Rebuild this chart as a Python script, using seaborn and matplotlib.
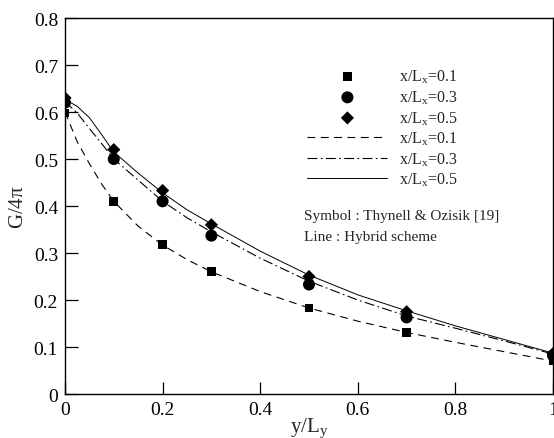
import numpy as np
import pandas as pd
import seaborn as sns
from matplotlib import pyplot as plt

# symbols : Thynell & Ozisik [19]
y_sym = [0.0, 0.1, 0.2, 0.3, 0.5, 0.7, 1.0]
g_sym_01 = [0.598, 0.410, 0.318, 0.260, 0.183, 0.131, 0.072]
g_sym_03 = [0.620, 0.500, 0.410, 0.337, 0.233, 0.163, 0.082]
g_sym_05 = [0.630, 0.520, 0.433, 0.360, 0.250, 0.175, 0.086]

# lines : hybrid scheme
y_line = [0.0, 0.025, 0.05, 0.075, 0.1, 0.15, 0.2, 0.25, 0.3, 0.4, 0.5, 0.6, 0.7, 0.8, 0.9, 1.0]
g_line_01 = [0.600, 0.537, 0.490, 0.447, 0.410, 0.357, 0.317, 0.286, 0.260, 0.218, 0.183, 0.155, 0.131, 0.110, 0.090, 0.070]
g_line_03 = [0.622, 0.598, 0.565, 0.533, 0.500, 0.455, 0.410, 0.375, 0.345, 0.289, 0.240, 0.200, 0.166, 0.140, 0.113, 0.085]
g_line_05 = [0.627, 0.612, 0.588, 0.552, 0.515, 0.470, 0.428, 0.392, 0.362, 0.304, 0.253, 0.211, 0.177, 0.145, 0.116, 0.087]

sns.set_style("ticks")
plt.rcParams['font.family'] = ['Liberation Serif', 'DejaVu Serif']
plt.rcParams['mathtext.default'] = 'regular'

fig = plt.figure(figsize=(5.54, 4.39), dpi=100)
ax = fig.add_axes([0.1173, 0.1002, 0.8809, 0.8565])

lab = [r'x/L$_x$=0.1', r'x/L$_x$=0.3', r'x/L$_x$=0.5']

sns.scatterplot(x=y_sym, y=g_sym_01, marker='s', s=40, color='black', edgecolor='none', label=lab[0], ax=ax, zorder=3)
sns.scatterplot(x=y_sym, y=g_sym_03, marker='o', s=75, color='black', edgecolor='none', label=lab[1], ax=ax, zorder=3)
sns.scatterplot(x=y_sym, y=g_sym_05, marker='D', s=45, color='black', edgecolor='none', label=lab[2], ax=ax, zorder=3)

sns.lineplot(x=y_line, y=g_line_01, color='black', lw=0.8, ax=ax, label=lab[0])
ax.lines[-1].set_dashes([7, 5])
sns.lineplot(x=y_line, y=g_line_03, color='black', lw=0.8, ax=ax, label=lab[1])
ax.lines[-1].set_dashes([9, 3, 1.5, 3])
sns.lineplot(x=y_line, y=g_line_05, color='black', lw=0.7, ax=ax, label=lab[2])

ax.set_xlim(0, 1)
ax.set_ylim(0, 0.8)
ax.set_xticks([0, 0.2, 0.4, 0.6, 0.8, 1.0])
ax.set_xticklabels(['0', '0.2', '0.4', '0.6', '0.8', '1'])
ax.set_yticks(np.arange(0, 0.81, 0.1))
ax.set_yticklabels(['0', '0.1', '0.2', '0.3', '0.4', '0.5', '0.6', '0.7', '0.8'])
ax.tick_params(direction='in', length=9, width=0.9, labelsize=14, pad=5, colors='black')
for sp in ax.spines.values():
    sp.set_linewidth(1.0)
    sp.set_color('black')

ax.set_xlabel(r'y/L$_y$', fontsize=15, labelpad=-2)
ax.set_ylabel(r'G/4$\pi$', fontsize=15, labelpad=4)

handles, labels = ax.get_legend_handles_labels()
ax.legend(handles, labels, loc='upper left', bbox_to_anchor=(0.474, 0.897),
          frameon=False, fontsize=11.5, handlelength=5.0, handletextpad=0.75,
          labelspacing=0.2, borderpad=0.2)

ax.text(0.49, 0.466, 'Symbol : Thynell & Ozisik [19]', transform=ax.transAxes, fontsize=11)
ax.text(0.49, 0.409, 'Line : Hybrid scheme', transform=ax.transAxes, fontsize=11)

fig.savefig('out.png', dpi=100)
